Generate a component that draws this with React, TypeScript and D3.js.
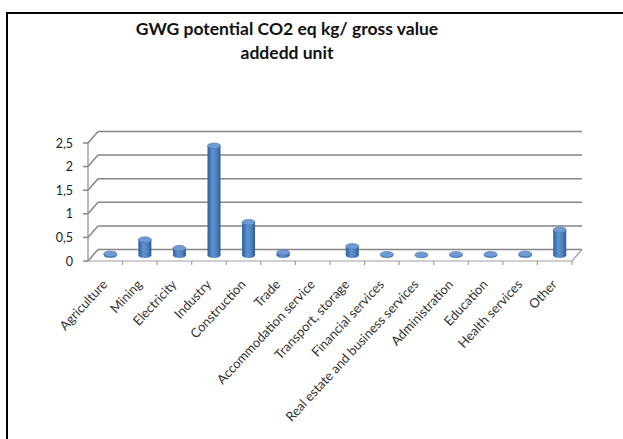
import * as d3 from 'd3';

const categories = [
  'Agriculture',
  'Mining',
  'Electricity',
  'Industry',
  'Construction',
  'Trade',
  'Accommodation service',
  'Transport, storage',
  'Financial services',
  'Real estate and business services',
  'Administration',
  'Education',
  'Health services',
  'Other',
];
const values = [0.03, 0.33, 0.15, 2.32, 0.7, 0.06, 0, 0.19, 0.02, 0.01, 0.02, 0.02, 0.03, 0.54];
const yTicks = [0, 0.5, 1, 1.5, 2, 2.5];
const titleLines = ['GWG potential CO2 eq kg/ gross value', 'addedd unit'];

const W = 623;
const H = 439;
// 3D depth of the floor / walls
const DX = 10;
const DY = -11.5;

export default function App() {
  const x = d3.scaleBand<string>().domain(categories).range([88, 572]);
  const y = d3.scaleLinear().domain([0, 2.5]).range([261, 143]);
  const bw = 13;
  const fmt = (v: number) => String(v).replace('.', ',');
  const left = x.range()[0];
  const right = x.range()[1];

  return (
    <svg
      width={W}
      height={H}
      style={{ position: 'absolute', left: 0, top: 0, background: '#fff' }}
      fontFamily="Lato, 'Open Sans', sans-serif"
    >
      <defs>
        <linearGradient id="cyl" x1="0" x2="1" y1="0" y2="0">
          <stop offset="0" stopColor="#2f5f98" />
          <stop offset="0.4" stopColor="#5e92d2" />
          <stop offset="0.7" stopColor="#4f81bd" />
          <stop offset="1" stopColor="#2c5a90" />
        </linearGradient>
      </defs>
      {/* frame */}
      <line x1={7} x2={W} y1={13} y2={13} stroke="#000" strokeWidth={2} />
      <line x1={7} x2={7} y1={12} y2={H} stroke="#000" strokeWidth={2} />

      {titleLines.map((t, i) => (
        <text
          key={t}
          x={287}
          y={34.5 + i * 24.5}
          textAnchor="middle"
          fontSize={17.5}
          fontWeight={700}
          fill="#111"
        >
          {t}
        </text>
      ))}

      {/* back wall gridlines + left wall diagonals */}
      {yTicks.map((t) => (
        <g key={t} stroke="#858585" strokeWidth={1.5} fill="none">
          <line x1={left + DX} x2={right + DX} y1={y(t) + DY} y2={y(t) + DY} />
          <line x1={left} x2={left + DX} y1={y(t)} y2={y(t) + DY} />
          <line x1={left - 5} x2={left} y1={y(t)} y2={y(t)} />
        </g>
      ))}
      {/* left wall front edge */}
      <line x1={left} x2={left} y1={y(0)} y2={y(2.5)} stroke="#8c8c8c" strokeWidth={1.2} />
      {/* floor */}
      <g stroke="#a0a0a0" strokeWidth={1.2} fill="none">
        <line x1={left} x2={right} y1={y(0)} y2={y(0)} />
        <line x1={right} x2={right + DX} y1={y(0)} y2={y(0) + DY} />
        {categories.map((c) => (
          <line key={c} x1={(x(c) ?? 0) + x.bandwidth()} x2={(x(c) ?? 0) + x.bandwidth()} y1={y(0)} y2={y(0) + 4} />
        ))}
      </g>

      {/* y tick labels */}
      {yTicks.map((t) => (
        <text key={t} x={73} y={y(t) + 4.5} textAnchor="end" fontSize={12.5} fill="#222">
          {fmt(t)}
        </text>
      ))}

      {/* cylinders */}
      {categories.map((c, i) => {
        const v = values[i];
        if (!v) return null;
        const cx = (x(c) ?? 0) + x.bandwidth() / 2 + DX / 2;
        const base = y(0) + DY / 2;
        const top = y(v) + DY / 2;
        const rx = bw / 2;
        const ry = 2.8;
        const d = `M${cx - rx},${top} L${cx - rx},${base} A${rx},${ry} 0 0 0 ${cx + rx},${base} L${cx + rx},${top} Z`;
        return (
          <g key={c}>
            <path d={d} fill="url(#cyl)" />
            <ellipse cx={cx} cy={top} rx={rx} ry={ry} fill="#6f9ad3" stroke="#4a78b0" strokeWidth={0.6} />
          </g>
        );
      })}

      {/* category labels */}
      {categories.map((c) => {
        const cx = (x(c) ?? 0) + x.bandwidth() / 2 + 3;
        return (
          <text
            key={c}
            transform={`translate(${cx},${y(0) + 24}) rotate(-47)`}
            textAnchor="end"
            fontSize={13}
            fill="#333"
          >
            {c}
          </text>
        );
      })}
    </svg>
  );
}
